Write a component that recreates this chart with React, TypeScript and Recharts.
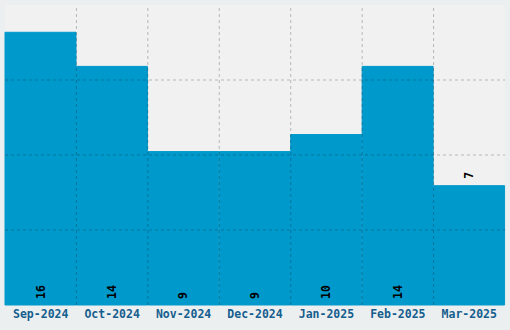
import { BarChart, Bar, XAxis, YAxis, CartesianGrid, LabelList, ReferenceLine } from 'recharts'

const months = ['Sep-2024', 'Oct-2024', 'Nov-2024', 'Dec-2024', 'Jan-2025', 'Feb-2025', 'Mar-2025']
const counts = [16, 14, 9, 9, 10, 14, 7]
const yTicks = [4.4, 8.8, 13.2]

const data = months.map((month, i) => ({ month, count: counts[i] }))

const mono = '"DejaVu Sans Mono", monospace'
const gridStroke = 'rgba(0,0,0,0.24)'

// value labels sit rotated at the bar foot; the last one sits above its bar
function ValueLabel(props: any) {
  const { x, y, width, height, value, index } = props
  const cx = x + width / 2
  const above = index === data.length - 1
  const ty = above ? y - 7 : y + height - 6
  return (
    <text
      x={cx}
      y={ty}
      transform={`rotate(-90 ${cx} ${ty})`}
      dy="0.35em"
      textAnchor="start"
      fontFamily={mono}
      fontWeight="bold"
      fontSize={11.5}
      fill="#000"
    >
      {value}
    </text>
  )
}

export default function App() {
  return (
    <div style={{ position: 'fixed', left: 0, top: 0, width: 510, height: 330, background: '#eceff0' }}>
      <BarChart
        width={510}
        height={330}
        data={data}
        barCategoryGap={0}
        margin={{ top: 5, right: 5, left: 5, bottom: 0 }}
      >
        <CartesianGrid fill="#f1f1f1" stroke="none" vertical={false} horizontal={false} />
        <XAxis
          dataKey="month"
          height={25}
          tickLine={false}
          axisLine={false}
          tickSize={0}
          tickMargin={5}
          interval={0}
          tick={{ fill: '#155e8e', fontFamily: mono, fontWeight: 'bold', fontSize: 11.5 }}
        />
        <YAxis hide domain={[0, 17.6]} ticks={yTicks} />
        <Bar dataKey="count" fill="#0099cc" stroke="#0099cc" strokeWidth={1} isAnimationActive={false}>
          <LabelList dataKey="count" content={ValueLabel} />
        </Bar>
        {yTicks.map((t) => (
          <ReferenceLine key={`h${t}`} y={t} stroke={gridStroke} strokeDasharray="3 3" />
        ))}
        {months.slice(1).map((m) => (
          <ReferenceLine key={`v${m}`} x={m} position="start" stroke={gridStroke} strokeDasharray="3 3" />
        ))}
      </BarChart>
    </div>
  )
}
